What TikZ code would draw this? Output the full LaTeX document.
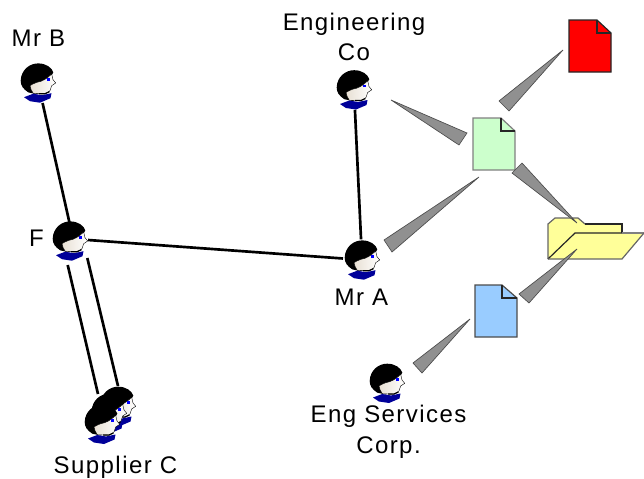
\documentclass[tikz,border=0pt]{standalone}
\usepackage{fontspec}
\setmainfont[LetterSpace=6]{Liberation Sans}
\definecolor{wedgegray}{HTML}{909090}
\definecolor{skin}{HTML}{E8E0D4}
\definecolor{collar}{HTML}{000099}
\definecolor{docred}{HTML}{FF0000}
\definecolor{docgreen}{HTML}{CCFFCC}
\definecolor{docblue}{HTML}{99CCFF}
\definecolor{folderyellow}{HTML}{FFFF99}
\tikzset{
  person/.style={inner sep=0pt,minimum width=27pt,minimum height=30pt},
  link/.style={line width=2pt,black},
  wedge/.style={fill=wedgegray,draw=black!70,line width=0.5pt,line join=miter},
  label/.style={font=\fontsize{18}{18}\selectfont,inner sep=0pt,text=black,anchor=base},
  docedge/.style={draw=black!85,line width=0.9pt,line join=miter},
  pics/head/.style={code={
    \fill[black] (-17.3,-2) .. controls (-17,-13) and (-8,-19.5) .. (0.3,-19.3)
      .. controls (8,-19.3) and (14,-15) .. (15.3,-10.3) -- (8,2)
      -- (-1,11.5) -- (-9.7,9.7) .. controls (-15,6) and (-17.3,3) .. (-17.3,-2) -- cycle;
    \shade[left color=skin,right color=white,draw=black,line width=0.3pt]
      (-8,3) .. controls (-5,1) and (-3,0.5) .. (-1.3,-0.3)
      .. controls (4,-1) and (9,-4) .. (13.7,-8.7) -- (15,-3) -- (17.7,0.3) -- (13.7,3)
      -- (12,8) -- (7,11.3) -- (-4.7,10.7) .. controls (-6,8) and (-8,6) .. (-8,3) -- cycle;
    \draw[black,line width=0.9pt] (1,11) -- (7,11) -- (11.5,9);
    \fill[collar] (-14,14.5) -- (-4.7,11) -- (4,12.5) -- (13.5,10.5) -- (12.5,15.5)
      -- (2,20) -- (-8,18.5) -- cycle;
    \fill[blue] (9.3,-4.7) rectangle (11.8,-2.2);
  }}
}
\begin{document}
\begin{tikzpicture}[x=0.75pt,y=-0.75pt]
\useasboundingbox (0,0) rectangle (644,479);

% people (invisible anchors)
\node[person] (mrb) at (38,82.7) {};
\node[person] (f) at (70,240.7) {};
\node[person] (mra) at (362,259.7) {};
\node[person] (eng) at (354,89.5) {};
\node[person] (svc) at (387,383) {};
\coordinate (s3) at (118,406);
\coordinate (s2) at (109,413);
\coordinate (s1) at (102,424);
\coordinate (fn) at (70,225);
\coordinate (fa) at (67.7,265);
\coordinate (fb) at (87.3,258);
\coordinate (sa) at (98,394);
\coordinate (sb) at (118,386);
\coordinate (fe) at (88,240);
\coordinate (mra-in) at (343,258.5);

% connectors
\draw[link] (mrb) -- (fn);
\draw[link] (fe) -- (mra-in);
\draw[link] (eng) -- (mra);
\draw[link] (fa) -- (sa);
\draw[link] (fb) -- (sb);

% heads
\pic at (mrb) {head};
\pic at (f) {head};
\pic at (mra) {head};
\pic at (eng) {head};
\pic at (svc) {head};
\pic at (s3) {head};
\pic at (s2) {head};
\pic at (s1) {head};

% folder
\path[fill=folderyellow] (548,259) -- (548,224) -- (555,218) -- (578,218) -- (585,224)
  -- (622,224) -- (622,233) -- (644,233) -- (622,259) -- cycle;
\draw[docedge,draw=black!60] (548,259) -- (548,224) -- (555,218) -- (578,218) -- (585,224);
\draw[docedge] (585,224) -- (622,224) -- (622,233);
\draw[docedge] (548,259) -- (575,233) -- (622,233);
\draw[docedge,draw=black!50] (622,233) -- (644,233);
\draw[docedge,draw=black!60] (548,259) -- (622,259) -- (644,233);

% documents
\draw[docedge,fill=docred] (569,20) -- (597,20) -- (611,33) -- (611,72) -- (569,72) -- cycle;
\draw[docedge] (597,20) -- (597,33) -- (611,33);
\draw[docedge,draw=black!50,fill=docgreen] (473,118) -- (501,118) -- (515,131) -- (515,170) -- (473,170) -- cycle;
\draw[docedge] (501,118) -- (501,131) -- (515,131);
\draw[docedge,draw=black!70,fill=docblue] (475,285) -- (502,285) -- (517,298) -- (517,337) -- (475,337) -- cycle;
\draw[docedge] (502,285) -- (502,298) -- (517,298);

% wedges
\draw[wedge] (563,50) -- (499,101) -- (509,111) -- cycle;
\draw[wedge] (391,100) -- (467,133) -- (459,145) -- cycle;
\draw[wedge] (479,177) -- (384,240) -- (392,252) -- cycle;
\draw[wedge] (577,223) -- (522,163) -- (512,173) -- cycle;
\draw[wedge] (577,249) -- (519,294) -- (529,303) -- cycle;
\draw[wedge] (470,319) -- (413,363) -- (422,373) -- cycle;

% labels
\node[label] (tmrb) at (38.5,46) {Mr B};
\node[label] (teng1) at (354,30) {Engineering};
\node[label] (teng2) at (354,60.7) {Co};
\node[label] (tf) at (36.5,246) {F};
\node[label] (tmra) at (361.5,305) {Mr A};
\node[label] (tsvc1) at (388.5,422.7) {Eng Services};
\node[label] (tsvc2) at (388.5,453) {Corp.};
\node[label] (tsup) at (115.5,473) {Supplier C};
\end{tikzpicture}
\end{document}
